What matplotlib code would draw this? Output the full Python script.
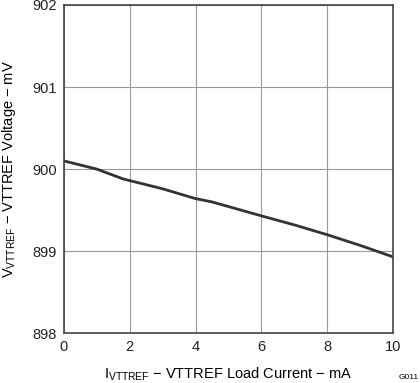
import numpy as np
import matplotlib.pyplot as plt

plt.rcParams['font.family'] = ['Liberation Sans', 'DejaVu Sans']
plt.rcParams['mathtext.fontset'] = 'custom'
plt.rcParams['mathtext.rm'] = 'Liberation Sans'

current = [0, 1, 1.8, 3, 4, 4.5, 6, 7, 8, 9, 10]
voltage = [900.10, 900.00, 899.88, 899.76, 899.64, 899.60, 899.43, 899.32, 899.20, 899.07, 898.93]

fig = plt.figure(figsize=(4.2, 3.83), dpi=100)
ax = fig.add_axes([0.152, 0.130, 0.784, 0.857])
ax.plot(current, voltage, color='#333333', lw=2)

ax.set_xlim(0, 10)
ax.set_ylim(898, 902)
ax.set_xticks(np.arange(0, 11, 2))
ax.set_yticks(np.arange(898, 903, 1))
ax.grid(True, color='#999999', lw=0.8)
ax.tick_params(length=0, labelsize=10.5, colors='#222222', pad=5)
for s in ax.spines.values():
    s.set_color('#444444')
    s.set_linewidth(1.2)

ax.set_xlabel(r'$\mathregular{I_{VTTREF}}$ − VTTREF Load Current − mA', fontsize=10.5, labelpad=8)
ax.set_ylabel(r'$\mathregular{V_{VTTREF}}$ − VTTREF Voltage − mV', fontsize=10.5, labelpad=10)
fig.text(0.998, 0.004, 'G011', fontsize=6, ha='right', va='bottom')

fig.savefig('out.png', dpi=100)
